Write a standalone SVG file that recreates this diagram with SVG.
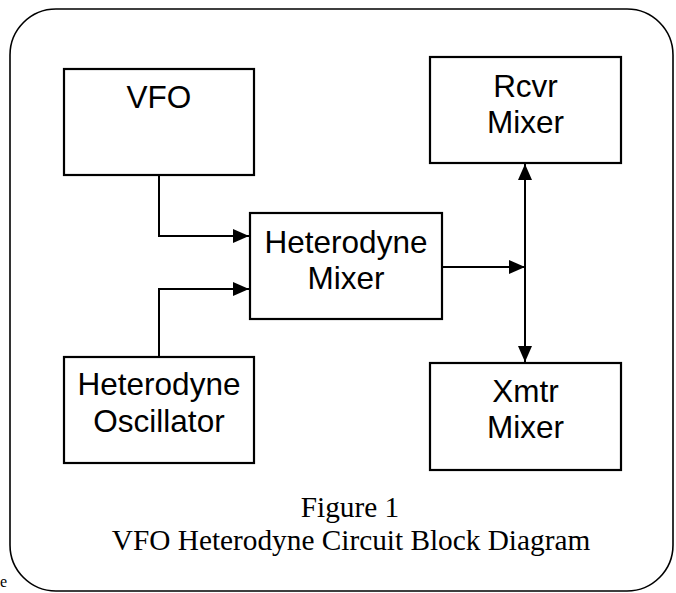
<svg xmlns="http://www.w3.org/2000/svg" width="676" height="593" viewBox="0 0 676 593">
<style>
.box{fill:#fff;stroke:#000;stroke-width:2.2}
.lbl{font-family:"Liberation Sans",Arial,sans-serif;font-size:31.5px;fill:#000;text-anchor:middle}
.cap{font-family:"Liberation Serif","Times New Roman",serif;font-size:29.3px;fill:#000;text-anchor:middle}
.wire{fill:none;stroke:#000;stroke-width:2}
</style>
<defs>
<marker id="arr" viewBox="0 0 16 14" refX="16" refY="7" markerWidth="16" markerHeight="14" markerUnits="userSpaceOnUse" orient="auto-start-reverse">
<path d="M0,0 L16,7 L0,14 Z" fill="#000"/>
</marker>
</defs>
<rect width="676" height="593" fill="#fff"/>
<rect x="10" y="9" width="663" height="582" rx="46" ry="46" fill="none" stroke="#000" stroke-width="1.6"/>
<text x="0" y="587" font-family="Liberation Serif, serif" font-size="16" fill="#000">e</text>
<g id="connectors">
<path class="wire" d="M159,175 V236 H249" marker-end="url(#arr)"/>
<path class="wire" d="M159,357 V289 H249" marker-end="url(#arr)"/>
<path class="wire" d="M442,267 H525" marker-end="url(#arr)"/>
<path class="wire" d="M525,164 V362" marker-start="url(#arr)" marker-end="url(#arr)"/>
</g>
<g id="vfo">
<rect class="box" x="64" y="69" width="190" height="106"/>
<text class="lbl" x="159" y="108">VFO</text>
</g>
<g id="het-mixer">
<rect class="box" x="250" y="213" width="192" height="106"/>
<text class="lbl" x="346" y="253">Heterodyne</text>
<text class="lbl" x="346" y="289">Mixer</text>
</g>
<g id="het-osc">
<rect class="box" x="64" y="357" width="190" height="106"/>
<text class="lbl" x="159" y="395">Heterodyne</text>
<text class="lbl" x="159" y="432">Oscillator</text>
</g>
<g id="rcvr-mixer">
<rect class="box" x="430" y="57" width="191" height="106"/>
<text class="lbl" x="525.5" y="97">Rcvr</text>
<text class="lbl" x="525.5" y="133">Mixer</text>
</g>
<g id="xmtr-mixer">
<rect class="box" x="430" y="363" width="191" height="107"/>
<text class="lbl" x="525.5" y="402">Xmtr</text>
<text class="lbl" x="525.5" y="438">Mixer</text>
</g>
<g id="caption">
<text class="cap" x="350" y="517">Figure 1</text>
<text class="cap" x="351" y="550">VFO Heterodyne Circuit Block Diagram</text>
</g>
</svg>
